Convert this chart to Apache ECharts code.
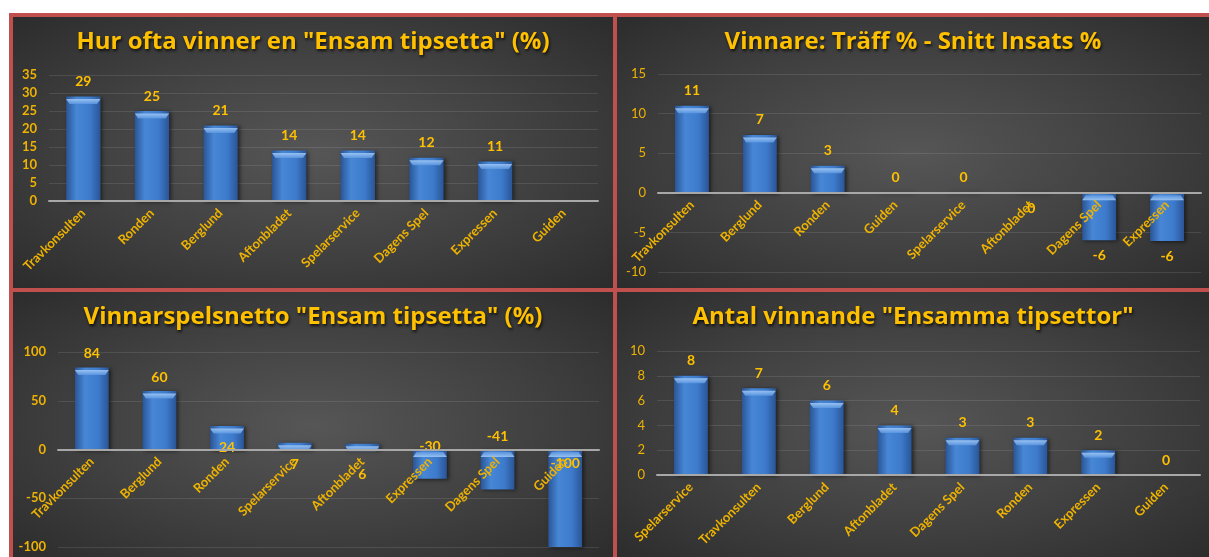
<!DOCTYPE html>
<html>
<head>
<meta charset="utf-8">
<script src="https://cdn.jsdelivr.net/npm/echarts@6/dist/echarts.min.js"></script>
<style>
  html, body { margin: 0; padding: 0; background: #fff; width: 1209px; height: 557px; overflow: hidden; }
  .panel {
    position: absolute; box-sizing: border-box;
    border: 4px solid #c0504d;
    background: radial-gradient(ellipse at 50% 50%, #565656 0%, #404040 55%, #2c2c2c 100%);
  }
  .panel > div { width: 100%; height: 100%; }
</style>
</head>
<body>
<div class="panel" style="left:9px;top:13px;width:608px;height:279px"><div id="c1"></div></div>
<div class="panel" style="left:613px;top:13px;width:600px;height:279px"><div id="c2"></div></div>
<div class="panel" style="left:9px;top:288px;width:608px;height:275px"><div id="c3"></div></div>
<div class="panel" style="left:613px;top:288px;width:600px;height:275px"><div id="c4"></div></div>
<script>
// chart 1 - Hur ofta vinner en "Ensam tipsetta" (%)
var cats1 = ['Travkonsulten', 'Ronden', 'Berglund', 'Aftonbladet', 'Spelarservice', 'Dagens Spel', 'Expressen', 'Guiden'];
var vals1 = [29, 25, 21, 14, 14, 12, 11, null];

// chart 2 - Vinnare: Träff % - Snitt Insats %
var cats2 = ['Travkonsulten', 'Berglund', 'Ronden', 'Guiden', 'Spelarservice', 'Aftonbladet', 'Dagens Spel', 'Expressen'];
var vals2 = [11, 7.3, 3.4, 0.1, 0.1, -0.1, -6, -6.1];

// chart 3 - Vinnarspelsnetto "Ensam tipsetta" (%)
var cats3 = ['Travkonsulten', 'Berglund', 'Ronden', 'Spelarservice', 'Aftonbladet', 'Expressen', 'Dagens Spel', 'Guiden'];
var vals3 = [84, 60, 24, 7, 6, -30, -41, -100];

// chart 4 - Antal vinnande "Ensamma tipsettor"
var cats4 = ['Spelarservice', 'Travkonsulten', 'Berglund', 'Aftonbladet', 'Dagens Spel', 'Ronden', 'Expressen', 'Guiden'];
var vals4 = [8, 7, 6, 4, 3, 3, 2, 0];

var GOLD = '#ffc000';
var AXGOLD = '#eeb200';
var FONT = 'Lato, "Open Sans", sans-serif';

var barColor = new echarts.graphic.LinearGradient(0, 0, 1, 0, [
  { offset: 0, color: '#2a5596' },
  { offset: 0.3, color: '#4787d6' },
  { offset: 0.7, color: '#3d7acb' },
  { offset: 1, color: '#2a5596' }
]);
var bevelColor = new echarts.graphic.LinearGradient(0, 0, 0, 1, [
  { offset: 0, color: '#a6ccf7' },
  { offset: 1, color: '#5d98e2' }
]);

// label placement tweaks for chart 3 (Excel labels were dragged around)
var labels3 = [
  { position: 'top', distance: 7 },
  { position: 'top', distance: 7 },
  { position: 'insideBottom', distance: 5, offset: [0, 10] },
  { position: 'bottom', distance: 8 },
  { position: 'bottom', distance: 18 },
  { position: 'top', distance: 5, offset: [0, 9] },
  { position: 'top', distance: 6 },
  { position: 'insideTop', distance: 7 }
];

function makeChart(id, cfg) {
  var chart = echarts.init(document.getElementById(id), null, { renderer: 'canvas' });
  var data = cfg.values.map(function (v, i) {
    var item = { value: v };
    if (cfg.labels) {
      item.label = cfg.labels[i];
    } else if (v != null && v < 0) {
      item.label = { position: 'bottom' };
    }
    return item;
  });
  // bevel strip on the upper edge of each bar
  var bevel = cfg.values.map(function (v) {
    if (v == null || Math.abs(v) < 1) return { value: null };
    return { value: v, symbolPosition: v > 0 ? 'end' : 'start' };
  });
  var grid = Object.assign({ containLabel: false, outerBoundsMode: 'none' }, cfg.grid);
  chart.setOption({
    animation: false,
    backgroundColor: 'transparent',
    title: {
      text: cfg.title,
      left: 'center',
      top: 8,
      textStyle: {
        color: GOLD, fontFamily: '"Open Sans", Lato, sans-serif', fontWeight: 'bold', fontSize: 24,
        textShadowColor: 'rgba(0,0,0,0.75)', textShadowBlur: 3, textShadowOffsetX: 1, textShadowOffsetY: 2
      }
    },
    grid: grid,
    xAxis: {
      type: 'category',
      data: cfg.cats,
      z: 10,
      axisTick: { show: false },
      axisLine: { onZero: false, lineStyle: { color: '#a8a8a8', width: 2 } },
      axisLabel: {
        rotate: 45, interval: 0, margin: 10,
        color: AXGOLD, fontFamily: FONT, fontWeight: 'bold', fontSize: 13
      }
    },
    yAxis: {
      type: 'value',
      min: cfg.min, max: cfg.max, interval: cfg.interval,
      axisLine: { show: false },
      axisTick: { show: false },
      splitLine: { lineStyle: { color: 'rgba(255,255,255,0.10)', width: 1 } },
      axisLabel: {
        margin: 12, color: AXGOLD, fontFamily: FONT,
        fontWeight: cfg.boldY ? 'bold' : 'normal', fontSize: 13
      }
    },
    series: [{
      type: 'bar',
      data: data,
      barWidth: '50%',
      barGap: '-100%',
      itemStyle: {
        color: barColor,
        shadowColor: 'rgba(0,0,0,0.55)', shadowBlur: 4, shadowOffsetX: 2, shadowOffsetY: 1
      },
      label: {
        show: true, position: 'top', distance: 8,
        color: GOLD, fontFamily: FONT, fontWeight: 'bold', fontSize: 14,
        formatter: function (p) { return String(Math.round(p.value)); }
      }
    }, {
      type: 'pictorialBar',
      data: bevel,
      barWidth: '50%',
      barGap: '-100%',
      symbol: 'path://M0,0 L20,0 L18,2 L2,2 Z',
      symbolSize: ['100%', 5],
      symbolOffset: [0, '50%'],
      itemStyle: { color: bevelColor, opacity: 0.85 },
      silent: true,
      z: 3
    }]
  });
  // move the category axis (line + labels) up to the zero line, like Excel
  if (cfg.min < 0) {
    var zeroY = chart.convertToPixel({ yAxisIndex: 0 }, 0);
    var bottomY = chart.convertToPixel({ yAxisIndex: 0 }, cfg.min);
    chart.setOption({ xAxis: { offset: -(bottomY - zeroY) } });
  }
  return chart;
}

makeChart('c1', {
  title: 'Hur ofta vinner en "Ensam tipsetta" (%)',
  cats: cats1, values: vals1, min: 0, max: 35, interval: 5, boldY: true,
  grid: { left: 36, right: 15, top: 58, bottom: 87 }
});
makeChart('c2', {
  title: 'Vinnare: Träff % - Snitt Insats %',
  cats: cats2, values: vals2, min: -10, max: 15, interval: 5, boldY: false,
  grid: { left: 41, right: 8, top: 57, bottom: 16 }
});
makeChart('c3', {
  title: 'Vinnarspelsnetto "Ensam tipsetta" (%)',
  cats: cats3, values: vals3, min: -100, max: 100, interval: 50, boldY: true,
  labels: labels3,
  grid: { left: 45, right: 14, top: 60, bottom: 12 }
});
makeChart('c4', {
  title: 'Antal vinnande "Ensamma tipsettor"',
  cats: cats4, values: vals4, min: 0, max: 10, interval: 2, boldY: false,
  grid: { left: 40, right: 9, top: 59, bottom: 84 }
});
</script>
</body>
</html>
